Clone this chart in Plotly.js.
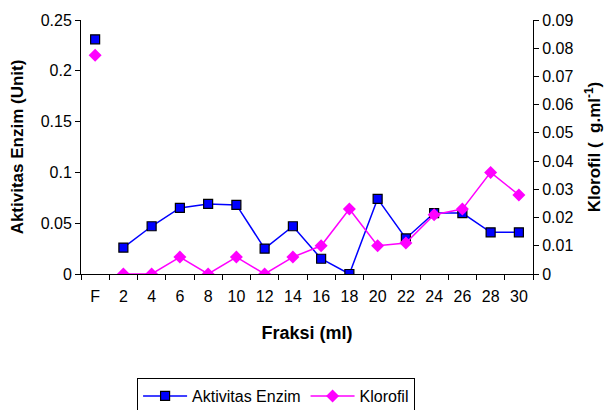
<!DOCTYPE html>
<html><head><meta charset="utf-8">
<script src="https://cdn.plot.ly/plotly-3.0.1.min.js"></script>
<style>body{margin:0}#c{width:612px;height:410px}</style>
</head><body><div id="c"></div>
<script>
const fraksi = ["F","2","4","6","8","10","12","14","16","18","20","22","24","26","28","30"];
const aktivitas = [0.231,0.026,0.047,0.065,0.069,0.068,0.025,0.047,0.015,0.0,0.074,0.035,0.060,0.060,0.041,0.041];
const klorofil = [0.0775,0,0,0.006,0,0.006,0,0.006,0.010,0.023,0.010,0.011,0.021,0.023,0.036,0.028];

const fam = "Liberation Sans, Arial, sans-serif";
const font = {family:fam, size:16, color:"#000"};
const sq = {symbol:"square", size:9, color:"#0000ff", line:{color:"#000", width:1.2}};
const dm = {symbol:"diamond", size:10, color:"#ff00ff", line:{width:0}};

const traces = [
  {x:fraksi.slice(1), y:aktivitas.slice(1), type:"scatter", mode:"lines+markers", name:"Aktivitas Enzim",
   line:{color:"#0000ff", width:1.5}, marker:sq, legendgroup:"a"},
  {x:fraksi.slice(0,1), y:aktivitas.slice(0,1), type:"scatter", mode:"markers", showlegend:false,
   marker:sq, legendgroup:"a"},
  {x:fraksi.slice(1), y:klorofil.slice(1), type:"scatter", mode:"lines+markers", name:"Klorofil", yaxis:"y2",
   line:{color:"#ff00ff", width:1.5}, marker:dm, legendgroup:"k"},
  {x:fraksi.slice(0,1), y:klorofil.slice(0,1), type:"scatter", mode:"markers", showlegend:false, yaxis:"y2",
   marker:dm, legendgroup:"k"}
];

const layout = {
  width:612, height:410,
  margin:{l:81, r:79, t:20, b:136},
  paper_bgcolor:"#fff", plot_bgcolor:"#fff",
  font:font,
  showlegend:true,
  legend:{orientation:"h", xref:"container", yref:"container", x:0.224, xanchor:"left", y:0.078, yanchor:"top",
          bordercolor:"#000", borderwidth:1, font:{family:fam, size:16, color:"#000"},
          traceorder:"normal", tracegroupgap:0, itemwidth:44},
  xaxis:{type:"category", categoryorder:"array", categoryarray:fraksi, automargin:false,
         tickson:"boundaries", ticks:"outside", ticklen:5, tickcolor:"#000", ticklabelstandoff:8,
         showline:true, linecolor:"#000", linewidth:1, showgrid:false, zeroline:false,
         tickfont:{size:16}, range:[-0.5,15.5],
         title:{text:"<b>Fraksi (ml)</b>", font:{size:18}, standoff:22}},
  yaxis:{range:[0,0.25], dtick:0.05, ticks:"outside", ticklen:5, tickcolor:"#000", automargin:false,
         showline:true, linecolor:"#000", linewidth:1, showgrid:false, zeroline:false,
         tickfont:{size:16}, tickformat:"~g",
         title:{text:"<b>Aktivitas Enzim (Unit)</b>", font:{size:17}, standoff:12}},
  yaxis2:{range:[0,0.09], dtick:0.01, overlaying:"y", side:"right", ticks:"outside", ticklen:5, tickcolor:"#000",
          showline:true, linecolor:"#000", linewidth:1, showgrid:false, zeroline:false, automargin:false,
          tickfont:{size:16}, tickformat:"~g",
          title:{text:"<b>Klorofil (  g.ml<sup>-1</sup>)</b>", font:{size:17}, standoff:15}}
};
Plotly.newPlot("c", traces, layout, {displayModeBar:false, staticPlot:true});
</script></body></html>
